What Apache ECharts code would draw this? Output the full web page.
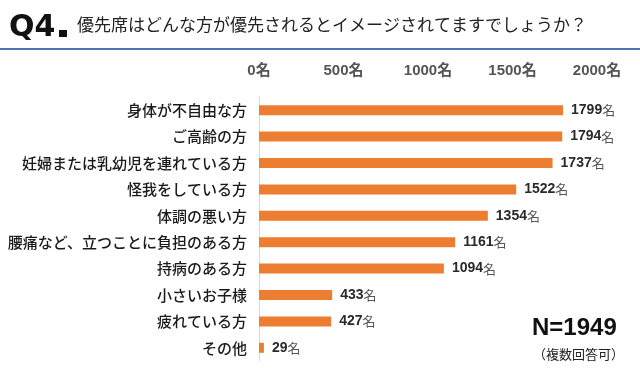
<!DOCTYPE html>
<html><head><meta charset="utf-8">
<script src="https://cdn.jsdelivr.net/npm/echarts@6/dist/echarts.min.js"></script>
<style>html,body{margin:0;padding:0;background:#fff}#c{width:640px;height:377px}</style>
</head><body><div id="c"></div>
<script>
const categories = ['身体が不自由な方','ご高齢の方','妊婦または乳幼児を連れている方','怪我をしている方','体調の悪い方','腰痛など、立つことに負担のある方','持病のある方','小さいお子様','疲れている方','その他'];
const values = [1799,1794,1737,1522,1354,1161,1094,433,427,29];
const tickUnit = '名';
const titleMain = 'Q4';
const titleSub = '優先席はどんな方が優先されるとイメージされてますでしょうか？';
const noteN = 'N=1949';
const noteSub = '（複数回答可）';

const font = '"Noto Sans CJK JP", "Noto Sans", sans-serif';
const numFont = '"Liberation Sans", Arial, "Noto Sans CJK JP", sans-serif';
const chart = echarts.init(document.getElementById('c'));
chart.setOption({
  backgroundColor: '#fff',
  animation: false,
  graphic: [
    {type:'text', left: 9, top: 13, style:{text: titleMain, font: 'bold 30px "DejaVu Sans", sans-serif', fill:'#111'}},
    {type:'rect', shape:{x:59, y:30, width:8, height:7}, style:{fill:'#111'}},
    {type:'text', left: 77, top: 16, style:{text: titleSub, font: '17px ' + font, fill:'#222'}},
    {type:'rect', shape:{x:0, y:48, width:640, height:2}, style:{fill:'#4f74a8'}},
    {type:'text', left: 532, top: 316, style:{text: noteN, font: 'bold 24px "Liberation Sans", Arial, sans-serif', fill:'#111'}},
    {type:'text', left: 533, top: 348, style:{text: noteSub, font: '13px ' + font, fill:'#222'}}
  ],
  grid: {left: 259, right: 43, top: 97, bottom: 16, containLabel: false},
  xAxis: {
    type: 'value', position: 'top', min: 0, max: 2000, interval: 500,
    axisLine: {show: false}, axisTick: {show: false}, splitLine: {show: false},
    axisLabel: {margin: 19, color: '#555', fontWeight: 'bold', fontSize: 15, fontFamily: numFont,
      formatter: v => v + tickUnit}
  },
  yAxis: {
    type: 'category', inverse: true, data: categories,
    axisLine: {show: true, lineStyle: {color: '#d9d9d9', width: 1}},
    axisTick: {show: false},
    axisLabel: {margin: 12, color: '#1a1a1a', fontSize: 15, fontWeight: 500, fontFamily: font}
  },
  series: [{
    type: 'bar', data: values, barWidth: 10,
    itemStyle: {color: '#ed7d31'},
    label: {show: true, position: 'right', distance: 8,
      formatter: p => '{n|' + p.value + '}{u|' + tickUnit + '}',
      rich: {n: {fontWeight: 'bold', fontSize: 14, color: '#2a2a2a', fontFamily: '"Liberation Sans", Arial, sans-serif'},
             u: {fontSize: 13, color: '#555', fontFamily: font}}}
  }]
});
</script></body></html>
